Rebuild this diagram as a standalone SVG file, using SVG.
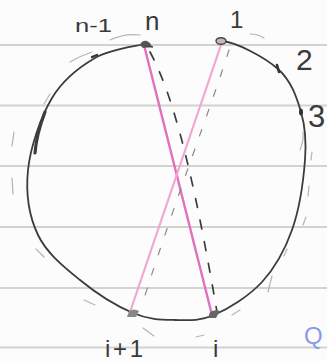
<svg xmlns="http://www.w3.org/2000/svg" width="327" height="361" viewBox="0 0 327 361">
<style>
.rule{stroke:#d2d2d2;stroke-width:2}
.pen{fill:none;stroke:#3c3c3c;stroke-linecap:round;stroke-linejoin:round}
.ghost{fill:none;stroke:#b4b4b4;stroke-width:1.2;stroke-linecap:round}
.lbl{font-family:"Liberation Sans","DejaVu Sans",sans-serif;fill:#3a3a3a}
</style>
<rect width="327" height="361" fill="#fcfcfc"/>
<g id="paper">
<line class="rule" x1="0" y1="45" x2="327" y2="45"/>
<line class="rule" x1="0" y1="105.5" x2="327" y2="105.5"/>
<line class="rule" x1="0" y1="166" x2="327" y2="166"/>
<line class="rule" x1="0" y1="227" x2="327" y2="227"/>
<line class="rule" x1="0" y1="288" x2="327" y2="288"/>
<line class="rule" x1="0" y1="347.5" x2="327" y2="347.5"/>
</g>
<g id="ghost-marks">
<path class="ghost" d="M110,40 Q125,33 140,35"/>
<path class="ghost" d="M70,62 Q80,56 92,52"/>
<path class="ghost" d="M44,104 L50,94"/>
<path class="ghost" d="M14,132 L12,146"/>
<path class="ghost" d="M12,178 L13,194"/>
<path class="ghost" d="M36,249 L44,257"/>
<path class="ghost" d="M84,300 L95,305"/>
<path class="ghost" d="M143,328 L154,336"/>
<path class="ghost" d="M196,337 L204,335"/>
<path class="ghost" d="M232,315 L240,310"/>
<path class="ghost" d="M268,292 L272,276"/>
<path class="ghost" d="M284,256 L287,249"/>
<path class="ghost" d="M303,225 L306,217"/>
<path class="ghost" d="M308,196 L309,186"/>
<path class="ghost" d="M311,160 L312,152"/>
<path class="ghost" d="M250,34 Q258,34 264,38"/>
<path class="ghost" d="M300,150 Q304,140 303,132"/>
</g>
<g id="circle">
<path class="pen" stroke-width="1.8" d="M145,44 C136.7,46.3 110.5,49 95,58 C79.5,67 63.2,79.3 52,98 C40.8,116.7 30.3,147.2 28,170 C25.7,192.8 29.3,216.7 38,235 C46.7,253.3 64.2,267 80,280 C95.8,293 117.2,306.3 133,313 C148.8,319.7 161.5,319.7 175,320 C188.5,320.3 199.5,321.3 214,315 C228.5,308.7 249,296.2 262,282 C275,267.8 284.8,250.3 292,230 C299.2,209.7 303.5,179.7 305,160 C306.5,140.3 305.5,127.2 301,112 C296.5,96.8 291.2,80.8 278,69 C264.8,57.2 236,42 222,41"/>
<path class="pen" stroke-width="3.2" d="M45,112 C40,125 36,140 35,153"/>
</g>
<g id="connectors">
<line x1="144" y1="45" x2="212" y2="315" stroke="#e270bb" stroke-width="2.4" stroke-linecap="round"/>
<line x1="222" y1="42" x2="130" y2="312" stroke="#f2a6d6" stroke-width="2.2" stroke-linecap="round"/>
<path class="pen" stroke-width="1.7" stroke-dasharray="9 13" d="M150,52 C176,100 196,190 217,312"/>
<path fill="none" stroke="#8a8a8a" stroke-width="1.2" stroke-dasharray="7 14" stroke-linecap="round" d="M229,50 C210,110 175,200 141,308"/>
</g>
<g id="node-n"><path d="M140,45 Q142,40 147,41 Q151,43 152,47 L143,48 Z" fill="#555"/><line x1="146" y1="46" x2="153" y2="47" stroke="#444" stroke-width="1.5"/></g>
<g id="node-1"><ellipse cx="221" cy="41" rx="5" ry="3.3" fill="#bbb" stroke="#444" stroke-width="1.4"/></g>
<g id="node-2"><path d="M277,65 L279,72" stroke="#333" stroke-width="2.6" stroke-linecap="round"/></g>
<g id="node-3"><ellipse cx="301" cy="112" rx="2" ry="3.5" fill="#333"/></g>
<g id="node-n1"><path d="M92,57 L97,55" stroke="#333" stroke-width="2.4" stroke-linecap="round"/></g>
<g id="node-i"><path d="M208,318 L210,312 Q215,309 220,311 L216,318 Z" fill="#666"/></g>
<g id="node-i1"><path d="M127,317 L129,311 Q134,308 139,311 L136,317 Z" fill="#888"/></g>
<g id="labels">
<text class="lbl" x="75" y="32" font-size="19" textLength="37" lengthAdjust="spacingAndGlyphs">n-1</text>
<text class="lbl" x="145" y="30" font-size="26" textLength="17">n</text>
<text class="lbl" x="230" y="28" font-size="24">1</text>
<text class="lbl" x="296" y="70" font-size="30">2</text>
<text class="lbl" x="308" y="127" font-size="31">3</text>
<text class="lbl" x="105" y="357" font-size="24" textLength="38">i+1</text>
<text class="lbl" x="213" y="357" font-size="24">i</text>
<text x="304" y="344" font-family="Liberation Sans, sans-serif" font-size="24" fill="#8c9ae6">Q</text>
</g>
</svg>
